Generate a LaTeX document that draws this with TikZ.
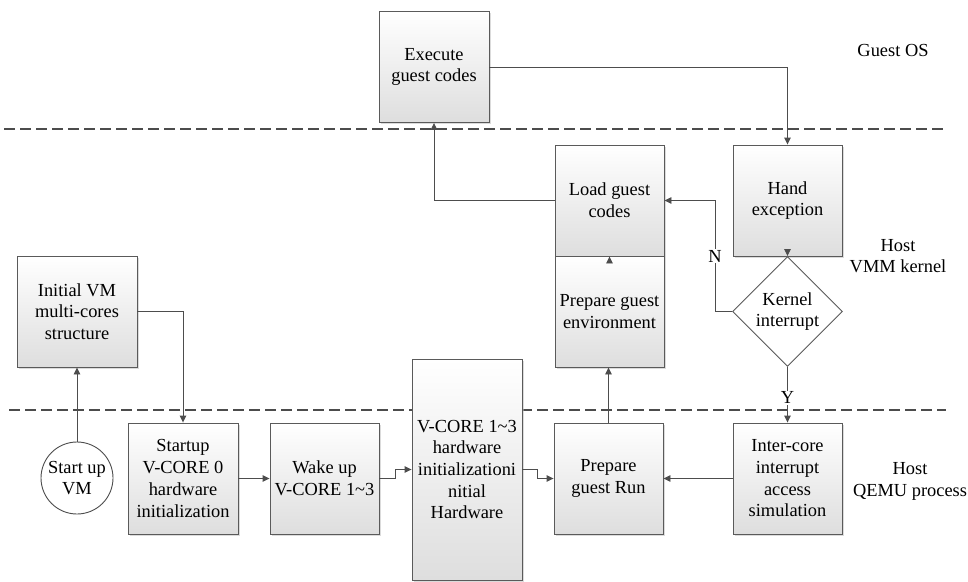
\documentclass[tikz,border=0pt]{standalone}
\usepackage{fontspec}
\newfontfamily\tms{Liberation Serif}
\newcommand\boxfont{\tms\fontsize{18.4}{21.7}\selectfont}
\usetikzlibrary{shapes.geometric,arrows.meta,shadows}
\definecolor{lc}{HTML}{4D4D4D}
\definecolor{bc}{HTML}{5A5A5A}
\begin{document}
\begin{tikzpicture}[x=1pt,y=-1pt,
  every node/.style={font=\boxfont, text=black},
  box/.style={draw=bc, line width=0.9pt, rectangle, align=center, inner sep=0pt,
    minimum width=110pt, minimum height=111pt, top color=white, bottom color=black!13,
    drop shadow={shadow xshift=1.8pt, shadow yshift=-1.8pt, fill=black!28}},
  arr/.style={draw=lc, line width=0.9pt, -{Triangle[length=7pt,width=6.5pt]}},
  sep/.style={draw=black!70, line width=2.2pt, dash pattern=on 11pt off 5pt},
  lbl/.style={align=center, inner sep=0pt},
  yn/.style={fill=white, inner sep=1pt}]
\useasboundingbox (0,0) rectangle (968,581);
\fill[white] (0,0) rectangle (968,581);

% separators
\coordinate (t1) at (4,129);
\coordinate (t2) at (946,129);
\coordinate (b1) at (9,410);
\coordinate (b2) at (946,410);
\draw[sep] (t1) -- (t2);
\draw[sep] (b1) -- (b2);

% Guest OS layer
\node[box] (exec) at (434,67) {Execute\\guest codes};
\node[lbl] (gos) at (893,50) {Guest OS};

% VMM kernel layer
\node[box, minimum width=109pt] (load) at (609.5,200.5) {Load guest\\codes};
\node[box, minimum width=109pt] (env) at (609.5,311.5) {Prepare guest\\environment};
\node[box, minimum width=109pt] (hand) at (787.5,200.5) {Hand\\exception};
\node[diamond, draw=bc, line width=0.9pt, fill=white, aspect=1, inner sep=0pt,
  minimum width=110pt, minimum height=110pt, align=center] (kint) at (787.5,311.5) {Kernel\\interrupt};
\node[lbl] (vmm) at (898,256) {Host\\VMM kernel};

% QEMU layer
\node[box, minimum width=120pt] (init) at (77,311.5) {Initial VM\\multi-cores\\structure};
\node[circle, draw=lc, line width=0.9pt, fill=white, minimum size=72pt, inner sep=0pt, align=center] (start) at (77,478) {Start up\\VM};
\node[box] (s0) at (183,478.5) {Startup\\V-CORE 0\\hardware\\initialization};
\node[box, minimum width=109pt] (wake) at (324.5,478.5) {Wake up\\V-CORE 1\textasciitilde3};
\node[box, minimum height=221pt] (vcore) at (467,469.5) {V-CORE 1\textasciitilde3\\hardware\\initializationi\\nitial\\Hardware};
\node[box, minimum width=109pt] (run) at (608.5,478.5) {Prepare\\guest Run};
\node[box, minimum width=109pt] (inter) at (787.5,478.5) {Inter-core\\interrupt\\access\\simulation};
\node[lbl] (qemu) at (910,481.5) {Host\\QEMU process};

% connectors
\draw[arr] (start.north) -- (init.south);
\draw[arr] (init.east) -| (s0.north);
\draw[arr] (s0.east) -- (wake.west);
\draw[arr] (wake.east) -- ++(16,0) |- (vcore.west);
\draw[arr] (vcore.east) -- ++(15,0) |- (run.west);
\draw[arr] (inter.west) -- (run.east);
\draw[arr] (run.north) -- (run.north |- env.south);
\draw[arr] ([yshift=-1pt]env.north) -- (load.south);
\draw[arr] (load.west) -| (exec.south);
\draw[arr] (exec.east) -| (hand.north);
\draw[arr] ([yshift=1pt]hand.south) -- (kint.north);
\draw[arr] (kint.west) -- ++(-17,0) |- node[yn, pos=0.25] (nlab) {N} (load.east);
\draw[arr] (kint.south) -- node[yn, pos=0.55] (ylab) {Y} (inter.north);
\end{tikzpicture}
\end{document}
